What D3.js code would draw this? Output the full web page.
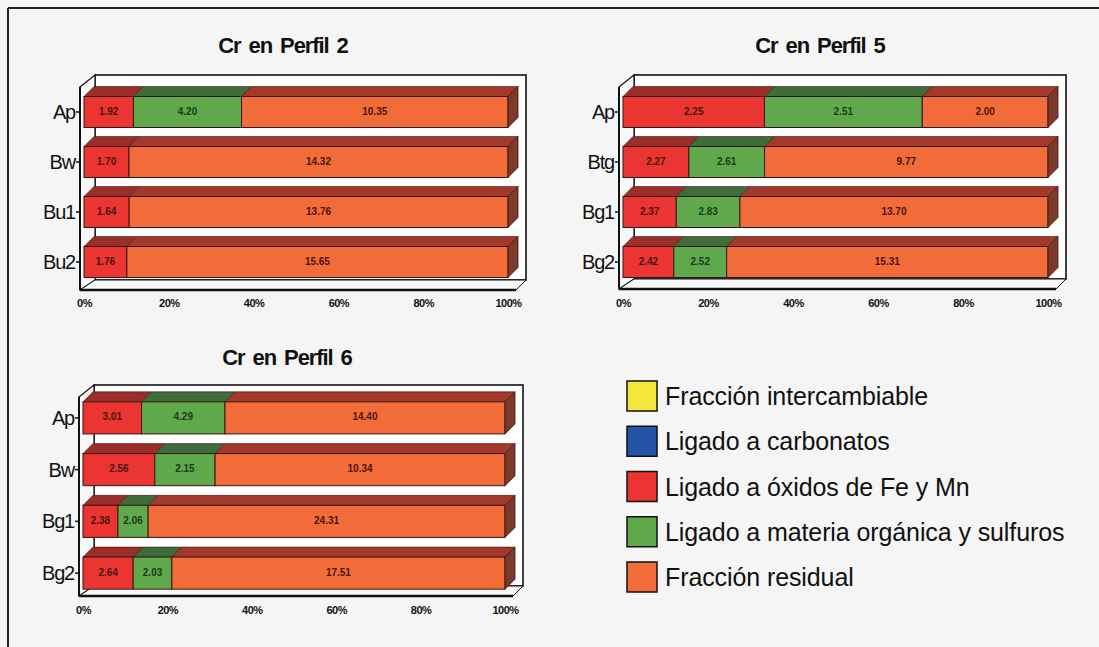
<!DOCTYPE html>
<html>
<head>
<meta charset="utf-8">
<script src="https://cdn.jsdelivr.net/npm/d3@7"></script>
<style>
  html, body { margin: 0; padding: 0; background: #f5f5f5; }
  svg { display: block; font-family: Arial, "Liberation Sans", sans-serif; }
</style>
</head>
<body>
<svg id="chart" width="1099" height="647"></svg>
<script>
// ---------- DATA ----------
const seriesNames = [
  "Fracción intercambiable",
  "Ligado a carbonatos",
  "Ligado a óxidos de Fe y Mn",
  "Ligado a materia orgánica y sulfuros",
  "Fracción residual"
];
const seriesColors = ["#f4e63a", "#2553a6", "#ea3532", "#60a84c", "#f26c3a"];
const topColors    = ["#a89a20", "#1a3a78", "#9c2e2a", "#3e6c3b", "#a3392a"];

const titles = ["Cr en Perfil 2", "Cr en Perfil 5", "Cr en Perfil 6"];

const categoriesP2 = ["Ap", "Bw", "Bu1", "Bu2"];
const intercambiableP2 = [0, 0, 0, 0];
const carbonatosP2 = [0, 0, 0, 0];
const oxidosP2 = [1.92, 1.70, 1.64, 1.76];
const organicaP2 = [4.20, 0, 0, 0];
const residualP2 = [10.35, 14.32, 13.76, 15.65];

const categoriesP5 = ["Ap", "Btg", "Bg1", "Bg2"];
const intercambiableP5 = [0, 0, 0, 0];
const carbonatosP5 = [0, 0, 0, 0];
const oxidosP5 = [2.25, 2.27, 2.37, 2.42];
const organicaP5 = [2.51, 2.61, 2.83, 2.52];
const residualP5 = [2.00, 9.77, 13.70, 15.31];

const categoriesP6 = ["Ap", "Bw", "Bg1", "Bg2"];
const intercambiableP6 = [0, 0, 0, 0];
const carbonatosP6 = [0, 0, 0, 0];
const oxidosP6 = [3.01, 2.56, 2.38, 2.64];
const organicaP6 = [4.29, 2.15, 2.06, 2.03];
const residualP6 = [14.40, 10.34, 24.31, 17.51];

const xTicks = [0, 0.2, 0.4, 0.6, 0.8, 1];

// ---------- DRAWING ----------
const svg = d3.select("#chart");

// photo frame lines
svg.append("line").attr("x1", 8).attr("y1", 8).attr("x2", 1099).attr("y2", 8)
  .attr("stroke", "#222").attr("stroke-width", 2);
svg.append("line").attr("x1", 8).attr("y1", 8).attr("x2", 8).attr("y2", 647)
  .attr("stroke", "#222").attr("stroke-width", 2);

function buildRows(cats, arrays) {
  return cats.map((c, i) => {
    const row = { cat: c };
    arrays.forEach((a, k) => row["s" + k] = a[i]);
    return row;
  });
}

function drawChart(opts) {
  const { title, cats, arrays, x0, x1, yTop, yBot, wallTop, floorY, titleX, titleY, axisY } = opts;
  const g = svg.append("g");
  const dx = 10, dy = 10;

  const x = d3.scaleLinear().domain([0, 1]).range([x0, x1]);
  const y = d3.scaleBand().domain(cats).range([yTop, yBot]).paddingInner(0.38).paddingOuter(0.19);

  // back wall
  g.append("rect")
    .attr("x", x0 + 11).attr("y", wallTop)
    .attr("width", (x1 + 18) - (x0 + 11)).attr("height", (floorY - 10) - wallTop)
    .attr("fill", "#ffffff").attr("stroke", "#111").attr("stroke-width", 1.6);
  // left wall + floor
  g.append("path")
    .attr("d", `M${x0 - 4},${wallTop + 12} L${x0 + 11},${wallTop} L${x0 + 11},${floorY - 10} L${x0 - 4},${floorY} Z`)
    .attr("fill", "#f8f8f8").attr("stroke", "#111").attr("stroke-width", 1.2);
  g.append("path")
    .attr("d", `M${x0 - 4},${floorY} L${x0 + 11},${floorY - 10} L${x1 + 18},${floorY - 10} L${x1 + 8},${floorY} Z`)
    .attr("fill", "#f8f8f8").attr("stroke", "#111").attr("stroke-width", 1);
  // front axis lines
  g.append("line").attr("x1", x0 - 4).attr("x2", x0 - 4).attr("y1", wallTop + 12).attr("y2", floorY)
    .attr("stroke", "#111").attr("stroke-width", 2);
  g.append("line").attr("x1", x0 - 4).attr("x2", x1 + 8).attr("y1", floorY).attr("y2", floorY)
    .attr("stroke", "#111").attr("stroke-width", 2.4);

  // stacked data (100%)
  const rows = buildRows(cats, arrays);
  const keys = arrays.map((a, k) => "s" + k);
  const stack = d3.stack().keys(keys).offset(d3.stackOffsetExpand);
  const layers = stack(rows);

  const bh = y.bandwidth();
  cats.forEach((c, ri) => {
    const by = y(c);
    const segs = layers.map((L, k) => ({ k, a: L[ri][0], b: L[ri][1], v: rows[ri]["s" + k] }))
      .filter(s => s.b - s.a > 0);
    const rg = g.append("g");
    segs.forEach(s => {
      const xa = x(s.a), xb = x(s.b);
      rg.append("path")
        .attr("d", `M${xa},${by} L${xa + dx},${by - dy} L${xb + dx},${by - dy} L${xb},${by} Z`)
        .attr("fill", topColors[s.k]).attr("stroke", "#3a1510").attr("stroke-width", 0.6);
      rg.append("rect")
        .attr("x", xa).attr("y", by).attr("width", xb - xa).attr("height", bh)
        .attr("fill", seriesColors[s.k]).attr("stroke", "#3a1510").attr("stroke-width", 1);
    });
    const last = segs[segs.length - 1];
    const xe = x(last.b);
    rg.append("path")
      .attr("d", `M${xe},${by} L${xe + dx},${by - dy} L${xe + dx},${by + bh - dy} L${xe},${by + bh} Z`)
      .attr("fill", "#7c3a2c").attr("stroke", "#3a1510").attr("stroke-width", 0.8);
    segs.forEach(s => {
      rg.append("text")
        .attr("x", (x(s.a) + x(s.b)) / 2).attr("y", by + bh / 2 - 1)
        .attr("text-anchor", "middle").attr("dominant-baseline", "central")
        .attr("font-size", 10).attr("font-weight", "bold")
        .attr("fill", s.k === 3 ? "#1d3a18" : "#4a1410")
        .text(d3.format(".2f")(s.v));
    });
    g.append("line").attr("x1", x0 - 8).attr("x2", x0 - 4)
      .attr("y1", by + bh / 2).attr("y2", by + bh / 2)
      .attr("stroke", "#111").attr("stroke-width", 1.5);
    g.append("text")
      .attr("x", x0 - 9).attr("y", by + bh / 2)
      .attr("text-anchor", "end").attr("dominant-baseline", "central")
      .attr("font-size", 20).attr("fill", "#111").attr("letter-spacing", -1.2)
      .text(c);
  });

  // x axis
  const ax = g.append("g").attr("transform", `translate(0,${axisY})`)
    .call(d3.axisBottom(x).tickValues(xTicks).tickFormat(d3.format(".0%")).tickSize(0).tickPadding(0));
  ax.select(".domain").remove();
  ax.selectAll("text")
    .attr("font-family", "Arial, 'Liberation Sans', sans-serif")
    .attr("font-size", 11).attr("font-weight", "bold").attr("fill", "#111")
    .attr("letter-spacing", -0.5);

  // title
  g.append("text")
    .attr("x", titleX).attr("y", titleY)
    .attr("text-anchor", "middle").attr("dominant-baseline", "central")
    .attr("font-size", 22).attr("font-weight", "bold").attr("fill", "#111")
    .attr("letter-spacing", -1.1).attr("word-spacing", 3)
    .text(title);
}

drawChart({
  title: titles[0], cats: categoriesP2,
  arrays: [intercambiableP2, carbonatosP2, oxidosP2, organicaP2, residualP2],
  x0: 84, x1: 508, yTop: 87, yBot: 287, wallTop: 75, floorY: 290,
  titleX: 283, titleY: 45, axisY: 299
});
drawChart({
  title: titles[1], cats: categoriesP5,
  arrays: [intercambiableP5, carbonatosP5, oxidosP5, organicaP5, residualP5],
  x0: 623, x1: 1048, yTop: 87, yBot: 287, wallTop: 75, floorY: 289,
  titleX: 820, titleY: 45, axisY: 299
});
drawChart({
  title: titles[2], cats: categoriesP6,
  arrays: [intercambiableP6, carbonatosP6, oxidosP6, organicaP6, residualP6],
  x0: 83, x1: 505, yTop: 392, yBot: 599, wallTop: 385, floorY: 596,
  titleX: 287, titleY: 357, axisY: 606
});

// legend
const ly = d3.scalePoint().domain(seriesNames).range([396, 577]);
const lg = svg.append("g");
seriesNames.forEach((n, i) => {
  lg.append("rect")
    .attr("x", 627).attr("y", ly(n) - 15).attr("width", 30).attr("height", 30)
    .attr("fill", seriesColors[i]).attr("stroke", "#111").attr("stroke-width", 1.5);
  lg.append("text")
    .attr("x", 665).attr("y", ly(n))
    .attr("dominant-baseline", "central")
    .attr("font-size", 25).attr("fill", "#111").attr("letter-spacing", -0.1)
    .text(n);
});
</script>
</body>
</html>
